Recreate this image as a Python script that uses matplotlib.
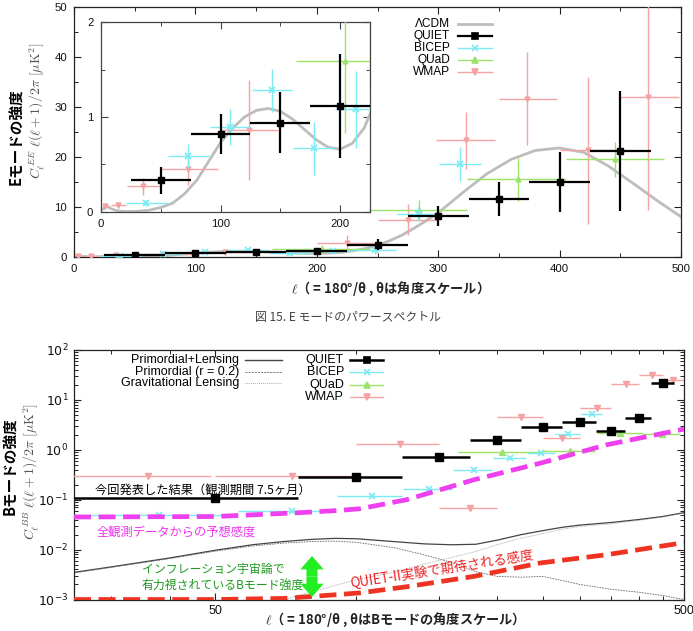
import numpy as np
import matplotlib
matplotlib.use('Agg')
import matplotlib.pyplot as plt
from matplotlib.lines import Line2D
from matplotlib.patches import FancyArrowPatch
from matplotlib.ticker import FixedLocator, NullFormatter

JP = ['Noto Sans CJK JP', 'DejaVu Sans']
SANS = ['Liberation Sans', 'DejaVu Sans']
plt.rcParams['font.family'] = SANS
plt.rcParams['mathtext.fontset'] = 'cm'

# ------------------------------------------------------------------ data
# E-mode theory (LCDM)
LCDM_ELL = [2, 4, 6, 8, 12, 16, 20, 25, 30, 40,
            50, 60, 70, 80, 90, 100, 110, 120, 130, 140, 150,
            160, 170, 180, 190, 200, 210, 220, 230, 240, 250, 260, 270, 280, 290, 300,
            320, 340, 360, 380, 400, 420, 440, 460, 480, 500]
LCDM_EE = [0.03, 0.055, 0.05, 0.035, 0.015, 0.006, 0.003, 0.002, 0.004, 0.015,
           0.045, 0.09, 0.19, 0.33, 0.53, 0.73, 0.88, 1.0, 1.07, 1.09, 1.06,
           0.98, 0.87, 0.76, 0.68, 0.66, 0.72, 0.88, 1.18, 1.65, 2.3, 3.2, 4.3, 5.7, 7.2, 8.8,
           12.8, 16.6, 19.5, 21.3, 21.8, 20.9, 18.2, 14.8, 11.3, 8.0]

# E-mode measurements
QUIET_EE_ELL = [50, 100, 150, 200, 250, 300, 350, 400, 450]
QUIET_EE_VAL = [0.33, 0.82, 0.94, 1.12, 2.35, 8.2, 11.5, 14.9, 21.2]
QUIET_EE_ERR = [0.14, 0.21, 0.32, 0.55, 1.1, 2.0, 3.4, 6.0, 12.0]
QUIET_EE_LO = [25, 75, 125, 175, 225, 275, 325, 375, 425]
QUIET_EE_HI = [75, 125, 175, 225, 275, 325, 375, 425, 475]

BICEP_EE_ELL = [38, 73, 108, 143, 178, 213, 248, 283, 318]
BICEP_EE_VAL = [0.09, 0.59, 0.89, 1.28, 0.67, 1.08, 1.3, 8.6, 18.5]
BICEP_EE_ERR = [0.03, 0.13, 0.19, 0.23, 0.28, 0.41, 0.7, 1.4, 3.4]
BICEP_EE_LO = [21, 56, 91, 126, 161, 196, 231, 266, 301]
BICEP_EE_HI = [55, 90, 125, 160, 195, 230, 265, 300, 335]

QUAD_EE_ELL = [204, 284, 366, 446]
QUAD_EE_VAL = [1.59, 9.3, 15.5, 19.5]
QUAD_EE_ERR = [0.76, 2.0, 4.3, 3.5]
QUAD_EE_LO = [163, 244, 324, 405]
QUAD_EE_HI = [244, 324, 405, 486]

WMAP_EE_ELL = [3, 14, 35, 73, 124, 225, 275, 323, 373, 423, 473]
WMAP_EE_VAL = [0.06, 0.07, 0.27, 0.45, 0.86, 2.8, 7.4, 23.3, 31.7, 21.3, 32.0]
WMAP_EE_ERR = [0.03, 0.03, 0.09, 0.17, 0.53, 1.5, 3.1, 5.7, 9.3, 14.7, 22.7]
WMAP_EE_LO = [2, 8, 22, 50, 100, 200, 250, 298, 350, 400, 450]
WMAP_EE_HI = [7, 21, 49, 98, 148, 250, 300, 347, 398, 448, 498]

EE_XTICKS = [0, 100, 200, 300, 400, 500]
EE_YTICKS = [0, 10, 20, 30, 40, 50]
INSET_XTICKS = [0, 100, 200]
INSET_YTICKS = [0, 1, 2]

# B-mode theory
BB_ELL = [25, 30, 40, 50, 60, 70, 80, 90, 100, 120, 140, 160, 180, 200,
          225, 250, 275, 300, 350, 400, 450, 500]
BB_TOTAL = [0.0035, 0.0045, 0.0068, 0.0097, 0.0125, 0.0145, 0.016, 0.0168, 0.0165,
            0.0145, 0.013, 0.0125, 0.0128, 0.0155, 0.02, 0.024, 0.028, 0.031,
            0.035, 0.04, 0.046, 0.055]
BB_PRIM = [0.0034, 0.0044, 0.0066, 0.0093, 0.0118, 0.0135, 0.0145, 0.0148, 0.014,
           0.011, 0.0078, 0.0055, 0.0036, 0.0029, 0.0028, 0.0029, 0.0024, 0.002,
           0.0016, 0.0014, 0.0012, 0.001]
BB_LENS = [0.00013, 0.00019, 0.00033, 0.0005, 0.0007, 0.001, 0.0014, 0.0019, 0.0025,
           0.0035, 0.0052, 0.007, 0.0092, 0.0126, 0.017, 0.021, 0.0256, 0.029,
           0.033, 0.0386, 0.045, 0.054]

# expected sensitivities
ALL_SENS_ELL = [25, 50, 76, 92, 102, 128, 178, 247, 342, 500]
ALL_SENS_VAL = [0.045, 0.046, 0.055, 0.061, 0.066, 0.1, 0.25, 0.54, 1.26, 2.6]
Q2_SENS_ELL = [25, 50, 70, 92, 102, 128, 178, 247, 342, 500]
Q2_SENS_VAL = [0.001, 0.001, 0.00105, 0.00126, 0.00136, 0.0018, 0.0029, 0.0054, 0.0079, 0.0138]

# B-mode measurements
QUIET_BB_ELL = [50, 100, 150, 200, 250, 300, 350, 400, 450]
QUIET_BB_VAL = [0.11, 0.29, 0.73, 1.58, 2.9, 3.6, 2.4, 4.4, 22.0]
QUIET_BB_LO = [25, 75, 125, 175, 225, 275, 325, 375, 425]
QUIET_BB_HI = [75, 125, 175, 225, 275, 325, 375, 425, 475]

BICEP_BB_ELL = [38, 73, 108, 143, 178, 213, 248, 283, 318]
BICEP_BB_VAL = [0.05, 0.06, 0.12, 0.166, 0.40, 0.69, 0.86, 2.09, 5.2]
BICEP_BB_LO = [21, 56, 91, 126, 161, 196, 231, 266, 301]
BICEP_BB_HI = [55, 90, 125, 160, 195, 230, 265, 300, 335]

QUAD_BB_ELL = [205, 286, 365, 448]
QUAD_BB_VAL = [0.91, 0.93, 2.2, 2.1]
QUAD_BB_LO = [165, 250, 326, 409]
QUAD_BB_HI = [250, 323, 409, 490]

WMAP_BB_ELL = [36, 73, 124, 175, 225, 275, 326, 376, 427, 473]
WMAP_BB_VAL = [0.30, 0.30, 1.32, 0.067, 4.6, 1.76, 7.0, 20.6, 31.6, 25.0]
WMAP_BB_LO = [2, 50, 100, 150, 200, 250, 300, 350, 400, 450]
WMAP_BB_HI = [49, 100, 150, 200, 250, 300, 350, 400, 450, 500]

BB_XTICKS = [50, 500]
BB_XMINOR = [30, 40, 100, 150, 200, 250, 300, 350, 400, 450]
BB_YTICKS = [1e-3, 1e-2, 1e-1, 1e0, 1e1, 1e2]
BB_YTICKLABELS = ['$10^{-3}$', '$10^{-2}$', '$10^{-1}$', '$10^{0}$', '$10^{1}$', '$10^{2}$']

# ------------------------------------------------------------------ styles
C_QUIET = '#000000'
C_BICEP = '#7eeaf2'
C_QUAD = '#9be36a'
C_WMAP = '#f4a2a2'
C_LCDM = '#bdbdbd'

W, H = 693, 631
fig = plt.figure(figsize=(W / 100, H / 100), dpi=100)


def fx(x):
    return x / W


def fy(y):
    return 1 - y / H


def rect(l, t, r, b):
    return [fx(l), fy(b), (r - l) / W, (b - t) / H]


def eb(ax, x, y, lo, hi, err, marker, color, ms, lw, z, mew=1.0):
    x = np.asarray(x, float)
    xerr = [x - np.asarray(lo, float), np.asarray(hi, float) - x]
    ax.errorbar(x, y, xerr=xerr, yerr=err, fmt=marker, color=color, ms=ms,
                lw=lw, elinewidth=lw, capsize=0, zorder=z, mew=mew)


def draw_ee(ax):
    ax.plot(LCDM_ELL, LCDM_EE, color=C_LCDM, lw=2.0, zorder=2)
    eb(ax, WMAP_EE_ELL, WMAP_EE_VAL, WMAP_EE_LO, WMAP_EE_HI, WMAP_EE_ERR, 'v', C_WMAP, 3.5, 1.0, 3)
    eb(ax, QUAD_EE_ELL, QUAD_EE_VAL, QUAD_EE_LO, QUAD_EE_HI, QUAD_EE_ERR, '^', C_QUAD, 3.5, 1.0, 3)
    eb(ax, BICEP_EE_ELL, BICEP_EE_VAL, BICEP_EE_LO, BICEP_EE_HI, BICEP_EE_ERR, 'x', C_BICEP, 4, 1.0, 4, 1.3)
    eb(ax, QUIET_EE_ELL, QUIET_EE_VAL, QUIET_EE_LO, QUIET_EE_HI, QUIET_EE_ERR, 's', C_QUIET, 4.5, 1.6, 5)


def style_axes(ax, color='#222222', size=8.2, pad=4):
    for s in ax.spines.values():
        s.set_color(color)
        s.set_linewidth(0.9)
    ax.tick_params(which='both', direction='in', top=True, right=True,
                   colors=color, labelcolor='#111111', labelsize=size, pad=pad)
    ax.tick_params(which='major', length=5, width=0.8)
    ax.tick_params(which='minor', length=3, width=0.7)
    for lab in ax.get_xticklabels() + ax.get_yticklabels():
        lab.set_family(SANS)


# ------------------------------------------------------------------ top panel
ax1 = fig.add_axes(rect(74, 7.3, 681, 256.7))
ax1.set_xlim(0, 500)
ax1.set_ylim(0, 50)
draw_ee(ax1)
ax1.set_xticks(EE_XTICKS)
ax1.set_xticklabels([str(v) for v in EE_XTICKS])
ax1.set_yticks(EE_YTICKS)
ax1.set_yticklabels([str(v) for v in EE_YTICKS])
ax1.xaxis.set_minor_locator(FixedLocator([50, 150, 250, 350, 450]))
ax1.yaxis.set_minor_locator(FixedLocator([5, 15, 25, 35, 45]))
style_axes(ax1, pad=5)

# inset
ax2 = fig.add_axes(rect(101, 22.3, 370, 211.7))
ax2.set_zorder(10)
ax2.set_facecolor('white')
ax2.set_xlim(0, 225)
ax2.set_ylim(0, 2)
draw_ee(ax2)
ax2.set_xticks(INSET_XTICKS)
ax2.set_xticklabels([str(v) for v in INSET_XTICKS])
ax2.set_yticks(INSET_YTICKS)
ax2.set_yticklabels([str(v) for v in INSET_YTICKS])
ax2.xaxis.set_minor_locator(FixedLocator([50, 150]))
ax2.yaxis.set_minor_locator(FixedLocator([0.5, 1.5]))
style_axes(ax2, color='#444444', pad=5.5)

# top legend (gnuplot style: label, then sample)
top_rows = [('ΛCDM', C_LCDM, None, 2.0),
            ('QUIET', C_QUIET, 's', 1.6),
            ('BICEP', C_BICEP, 'x', 1.0),
            ('QUaD', C_QUAD, '^', 1.0),
            ('WMAP', C_WMAP, 'v', 1.0)]
for i, (lab, col, mk, lw) in enumerate(top_rows):
    y = 24 + 12 * i
    fig.text(fx(450), fy(y), lab, ha='right', va='center', fontsize=8.6, family=SANS)
    fig.add_artist(Line2D([fx(458), fx(492)], [fy(y), fy(y)], color=col, lw=lw,
                          transform=fig.transFigure))
    if mk:
        fig.add_artist(Line2D([fx(475)], [fy(y)], marker=mk, color=col, ms=4 if mk != 's' else 4.5,
                              mew=1.2, lw=0, transform=fig.transFigure))

fig.text(fx(16), fy(137), 'Eモードの強度', rotation=90, ha='center', va='center',
         fontsize=10.5, family=JP, weight='bold')
fig.text(fx(37), fy(111), r'$C_\ell^{\,EE}\ \ell(\ell+1)/2\pi\ [\mu{\rm K}^2]$', rotation=90,
         ha='center', va='center', fontsize=10, color='#555555')
fig.text(fx(387), fy(289), '$\\ell$（ = 180°/θ , θは角度スケール）', ha='center', va='center',
         fontsize=9.5, family=JP, weight='bold', color='#222222')
fig.text(fx(348), fy(318), '図 15. E モードのパワースペクトル', ha='center', va='center',
         fontsize=8.6, family=JP, color='#444444')

# ------------------------------------------------------------------ bottom panel
ax3 = fig.add_axes(rect(74, 350, 684, 599.5))
ax3.set_xscale('log')
ax3.set_yscale('log')
ax3.set_xlim(25, 500)
ax3.set_ylim(1e-3, 1e2)

ax3.plot(BB_ELL, BB_TOTAL, color='#444444', lw=0.9, zorder=2)
ax3.plot(BB_ELL, BB_PRIM, color='#666666', lw=0.6, dashes=(2, 1.2), zorder=2)
ax3.plot(BB_ELL, BB_LENS, color='#888888', lw=0.6, dashes=(0.8, 1.2), zorder=2)

ax3.plot(ALL_SENS_ELL, ALL_SENS_VAL, color='#ee40ee', lw=3.4, dashes=(3.6, 1.6), zorder=6)
ax3.plot(Q2_SENS_ELL, Q2_SENS_VAL, color='#ee3322', lw=3.4, dashes=(3.6, 1.6), zorder=6)

eb(ax3, WMAP_BB_ELL, WMAP_BB_VAL, WMAP_BB_LO, WMAP_BB_HI, None, 'v', C_WMAP, 4, 1.0, 3)
eb(ax3, QUAD_BB_ELL, QUAD_BB_VAL, QUAD_BB_LO, QUAD_BB_HI, None, '^', C_QUAD, 4, 1.0, 3)
eb(ax3, BICEP_BB_ELL, BICEP_BB_VAL, BICEP_BB_LO, BICEP_BB_HI, None, 'x', C_BICEP, 5, 1.0, 4, 1.3)
eb(ax3, QUIET_BB_ELL, QUIET_BB_VAL, QUIET_BB_LO, QUIET_BB_HI, None, 's', C_QUIET, 6, 1.8, 5)

ax3.xaxis.set_major_locator(FixedLocator(BB_XTICKS))
ax3.xaxis.set_minor_locator(FixedLocator(BB_XMINOR))
ax3.xaxis.set_minor_formatter(NullFormatter())
ax3.set_xticklabels([str(v) for v in BB_XTICKS])
ax3.yaxis.set_major_locator(FixedLocator(BB_YTICKS))
ax3.yaxis.set_minor_locator(FixedLocator([m * 10.0 ** e for e in range(-3, 2) for m in range(2, 10)]))
ax3.yaxis.set_minor_formatter(NullFormatter())
ax3.set_yticklabels(BB_YTICKLABELS)
style_axes(ax3, size=9, pad=4)
for lab in ax3.get_yticklabels():
    lab.set_math_fontfamily('dejavusans')

# bottom legends
theory_rows = [('Primordial+Lensing', dict(color='#444444', lw=1.0)),
               ('Primordial (r = 0.2)', dict(color='#777777', lw=0.7, dashes=(2, 1.2))),
               ('Gravitational Lensing', dict(color='#999999', lw=0.7, dashes=(0.8, 1.2)))]
for i, (lab, kw) in enumerate(theory_rows):
    y = 360 + 11.7 * i
    fig.text(fx(239), fy(y), lab, ha='right', va='center', fontsize=9, family=SANS)
    fig.add_artist(Line2D([fx(245), fx(282)], [fy(y), fy(y)], transform=fig.transFigure, **kw))

data_rows = [('QUIET', C_QUIET, 's', 1.8), ('BICEP', C_BICEP, 'x', 1.0),
             ('QUaD', C_QUAD, '^', 1.0), ('WMAP', C_WMAP, 'v', 1.0)]
for i, (lab, col, mk, lw) in enumerate(data_rows):
    y = 360 + 12.4 * i
    fig.text(fx(344), fy(y), lab, ha='right', va='center', fontsize=9, family=SANS)
    fig.add_artist(Line2D([fx(350), fx(383)], [fy(y), fy(y)], color=col, lw=lw,
                          transform=fig.transFigure))
    fig.add_artist(Line2D([fx(367)], [fy(y)], marker=mk, color=col, ms=4.5, mew=1.2, lw=0,
                          transform=fig.transFigure))

# annotations
fig.text(fx(95), fy(490), '今回発表した結果（観測期間 7.5ヶ月）', ha='left', va='center',
         fontsize=8.8, family=JP)
fig.text(fx(97), fy(532), '全観測データからの予想感度', ha='left', va='center',
         fontsize=8.8, family=JP, color='#ee33ee')
fig.text(fx(142), fy(569), 'インフレーション宇宙論で', ha='left', va='center',
         fontsize=8.6, family=JP, color='#1f9a1f')
fig.text(fx(142), fy(585), '有力視されているBモード強度', ha='left', va='center',
         fontsize=8.6, family=JP, color='#1f9a1f')
fig.text(fx(442), fy(569), 'QUIET-II実験で期待される感度', ha='center', va='center',
         rotation=9, fontsize=9.6, family=JP, color='#ee2222')
for y_end in (556, 597):
    arrow = FancyArrowPatch((fx(312), fy(576.5)), (fx(312), fy(y_end)), transform=fig.transFigure,
                            arrowstyle='simple,head_width=1.05,head_length=0.6,tail_width=0.5',
                            mutation_scale=16, lw=0, color='#22ee22', shrinkA=0, shrinkB=0)
    fig.add_artist(arrow)

fig.text(fx(10), fy(466), 'Bモードの強度', rotation=90, ha='center', va='center',
         fontsize=10.5, family=JP, weight='bold')
fig.text(fx(31), fy(471), r'$C_\ell^{\,BB}\ \ell(\ell+1)/2\pi\ [\mu{\rm K}^2]$', rotation=90,
         ha='center', va='center', fontsize=10, color='#555555')
fig.text(fx(392), fy(620), '$\\ell$（ = 180°/θ , θはBモードの角度スケール）', ha='center',
         va='center', fontsize=9.5, family=JP, weight='bold', color='#222222')

fig.savefig('out.png', dpi=100)
